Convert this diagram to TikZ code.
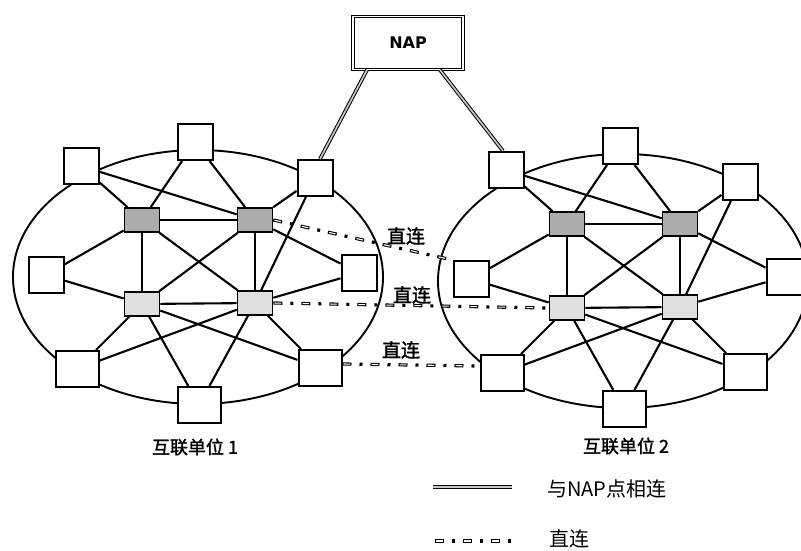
\documentclass[tikz,border=0pt]{standalone}
\usepackage{fontspec}
\newfontfamily\cjk{Noto Sans CJK SC}
\newfontfamily\cjkbold[FakeBold=1.6]{Noto Sans CJK SC}
\newfontfamily\napf{DejaVu Sans}
\tikzset{
  sq/.style={draw, line width=2pt, fill=white, minimum width=35pt, minimum height=36pt, inner sep=0pt},
  sqw/.style={sq, minimum width=43pt},
  hub/.style={draw, line width=1.6pt, minimum width=35pt, minimum height=24pt, inner sep=0pt},
  hubd/.style={hub, fill=gray!65},
  hubl/.style={hub, fill=gray!25},
  edge/.style={line width=2.1pt},
  ring/.style={line width=1.9pt},
  naplink/.style={draw=black, line width=1pt, double=gray!45, double distance=1.7pt},
  direct/.style={line width=3.2pt, dash pattern=on 9pt off 8pt on 3pt off 8pt,
    postaction={draw=white, line width=1.1pt, dash pattern=on 0pt off 1.2pt on 6.6pt off 20.2pt}},
  napbox/.style={draw, line width=1pt, double, double distance=1.6pt, fill=white,
    minimum width=110pt, minimum height=53pt, inner sep=0pt, font=\napf\bfseries\fontsize{16}{16}\selectfont},
  lbl/.style={inner sep=0pt, font=\cjkbold\fontsize{19}{19}\selectfont},
  unitlbl/.style={inner sep=0pt, font=\cjkbold\fontsize{18}{18}\selectfont},
  legtxt/.style={inner sep=0pt, anchor=west, font=\cjk\fontsize{20}{20}\selectfont},
}
\newcommand\unitnet[3]{%
\begin{scope}[shift={(#2,#3)}]
  \draw[ring] (198,277) ellipse [x radius=185pt, y radius=127pt];
  \node[sq] (#1tl) at (81,166) {};
  \node[sq] (#1t) at (195,142) {};
  \node[sq] (#1tr) at (315,178) {};
  \node[sq] (#1ml) at (46,275) {};
  \node[sq] (#1mr) at (359,273) {};
  \node[sqw] (#1bl) at (77,369) {};
  \node[sqw] (#1b) at (199,405) {};
  \node[sqw] (#1br) at (320,368) {};
  \node[hubd] (#1da) at (142,220) {};
  \node[hubd] (#1db) at (255,220) {};
  \node[hubl] (#1la) at (142,304) {};
  \node[hubl] (#1lb) at (255,303) {};
  \draw[edge] (#1tl) -- (#1da);
  \draw[edge] (#1tl) -- (#1db);
  \draw[edge] (#1t) -- (#1da);
  \draw[edge] (#1t) -- (#1db);
  \draw[edge] (#1tr) -- (#1db);
  \draw[edge] (#1tr) -- (#1lb);
  \draw[edge] (#1da) -- (#1db);
  \draw[edge] (#1la) -- (#1lb);
  \draw[edge] (#1da) -- (#1la);
  \draw[edge] (#1db) -- (#1lb);
  \draw[edge] (#1da) -- (#1lb);
  \draw[edge] (#1db) -- (#1la);
  \draw[edge] (#1ml) -- (#1da);
  \draw[edge] (#1ml) -- (#1la);
  \draw[edge] (#1mr) -- (#1db);
  \draw[edge] (#1mr) -- (#1lb);
  \draw[edge] (#1la) -- (#1bl);
  \draw[edge] (#1la) -- (#1b);
  \draw[edge] (#1la) -- (#1br);
  \draw[edge] (#1lb) -- (#1bl);
  \draw[edge] (#1lb) -- (#1b);
  \draw[edge] (#1lb) -- (#1br);
\end{scope}}
\begin{document}
\begin{tikzpicture}[x=1pt, y=-1pt]
  \fill[white] (0,0) rectangle (801,551);
  \useasboundingbox (0,0) rectangle (801,551);
  \unitnet{u}{0}{0}
  \unitnet{v}{425}{4}
  \node[napbox] (nap) at (408,43) {NAP};
  \draw[naplink] ([xshift=-41pt]nap.south) -- ([xshift=5pt]utr.north);
  \draw[naplink] ([xshift=32pt]nap.south) -- ([xshift=-3pt]vtl.north);
  \draw[direct] (udb.east) -- (vml.north west);
  \draw[direct] (ulb.east) -- (vla.west);
  \draw[direct] ([yshift=4pt]ubr.east) -- ([yshift=7pt]vbl.west);
  \node[lbl] (dl1) at (406,236) {直连};
  \node[lbl] (dl2) at (412,295) {直连};
  \node[lbl] (dl3) at (401,350) {直连};
  \node[unitlbl] (un1) at (195,447) {互联单位 1};
  \node[unitlbl] (un2) at (626,446) {互联单位 2};
  \coordinate (lg1a) at (433,487);
  \coordinate (lg1b) at (512,487);
  \draw[naplink] (lg1a) -- (lg1b);
  \node[legtxt] (lg1t) at (547,489) {与NAP点相连};
  \coordinate (lg2a) at (435,541);
  \coordinate (lg2b) at (518,541);
  \draw[direct] (lg2a) -- (lg2b);
  \node[legtxt] (lg2t) at (549,539) {直连};
\end{tikzpicture}
\end{document}
